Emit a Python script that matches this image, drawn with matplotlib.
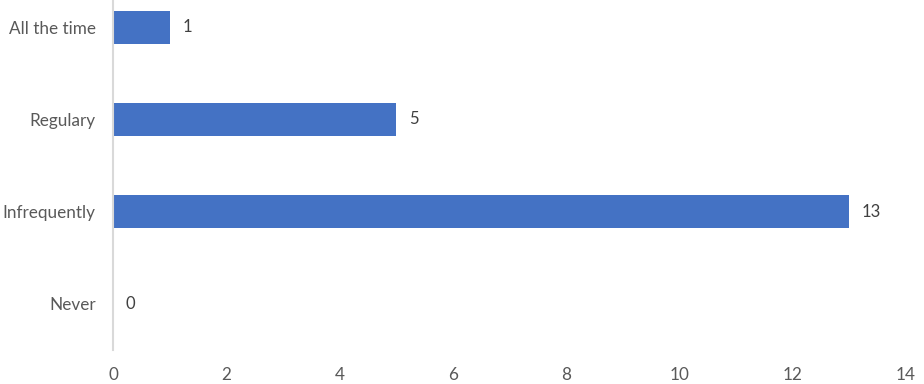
import matplotlib.pyplot as plt

# data, top to bottom as in the chart
categories = ['All the time', 'Regulary', 'Infrequently', 'Never']
counts = [1, 5, 13, 0]
xticks = [0, 2, 4, 6, 8, 10, 12, 14]

plt.rcParams['font.family'] = ['Lato', 'DejaVu Sans']

fig = plt.figure(figsize=(9.24, 3.84), dpi=100)
# axes top goes past the figure edge, the original picture is cropped there
ax = fig.add_axes([113 / 924, 34 / 384, 793 / 924, 369 / 384])

ypos = list(range(len(categories)))[::-1]
ax.barh(ypos, counts, height=0.36, color='#4472C4')

for y, v in zip(ypos, counts):
    ax.text(v + 0.22, y, str(v), va='center', ha='left', fontsize=12, color='#404040')

ax.set_xlim(0, 14)
ax.set_ylim(-0.5, 3.5)
ax.set_xticks(xticks)
ax.set_yticks(ypos)
ax.set_yticklabels(categories)
ax.tick_params(axis='both', length=0, labelsize=12.3, colors='#595959')
ax.tick_params(axis='x', pad=12.5)
ax.tick_params(axis='y', pad=12.5)

for s in ['top', 'right', 'bottom']:
    ax.spines[s].set_visible(False)
ax.spines['left'].set_color('#D9D9D9')
ax.spines['left'].set_linewidth(1.5)

fig.savefig('out.png', dpi=100)
